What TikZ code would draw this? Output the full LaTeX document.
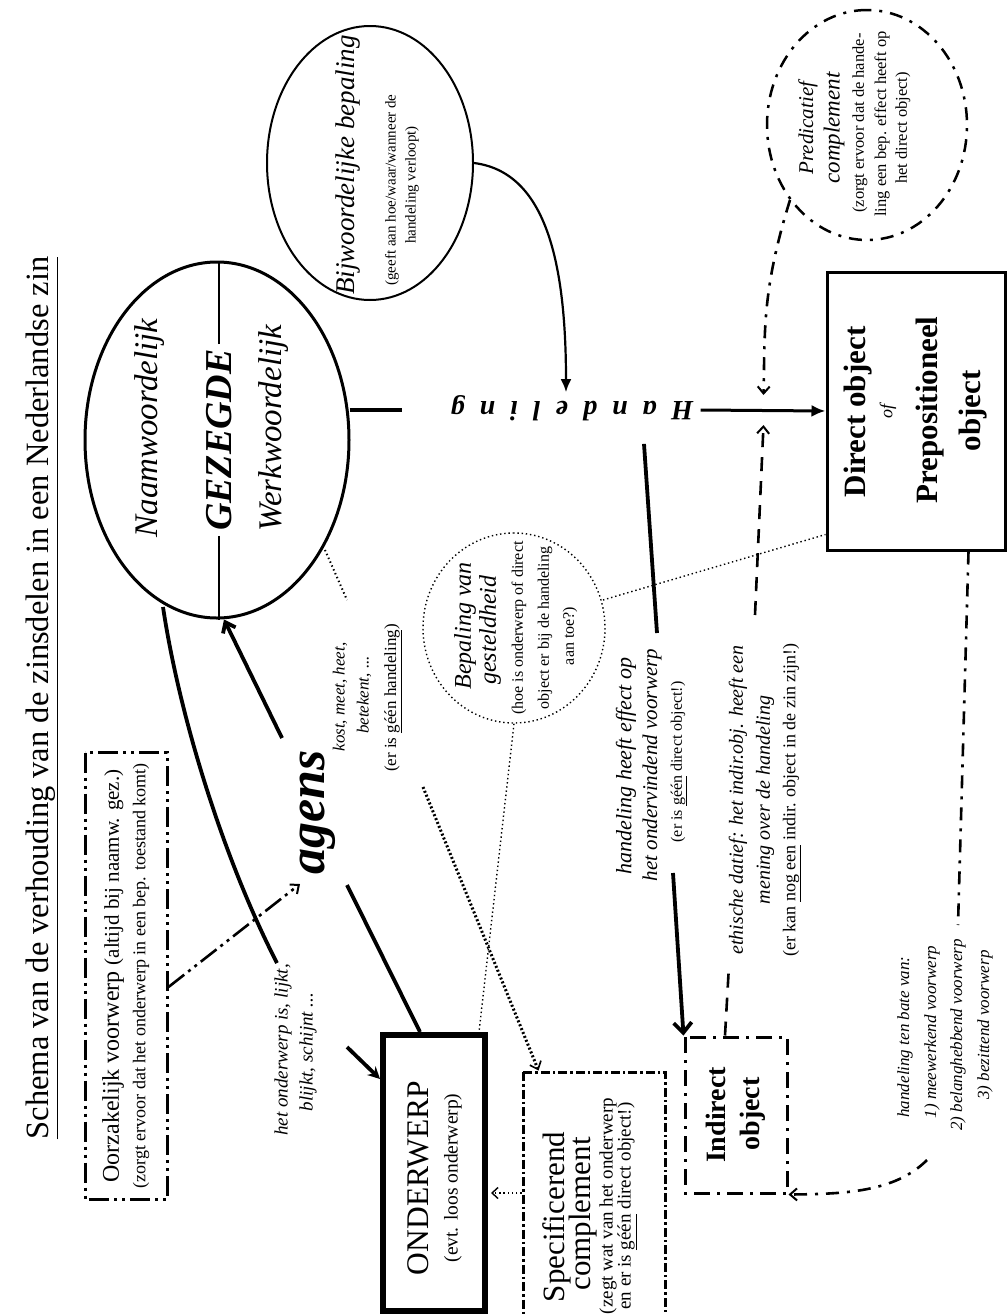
\documentclass[tikz,border=0pt]{standalone}
\usepackage{fontspec}
\setmainfont{Liberation Serif}
\usetikzlibrary{arrows.meta,calc,shapes.geometric}
\newcommand{\fsz}[1]{\fontsize{#1}{#1}\selectfont}
\begin{document}
\begin{tikzpicture}[x=1pt,y=-1pt,
  lbl/.style={inner sep=0pt,rotate=90},
  thk/.style={line width=3.8pt},
  ddd/.style={dash pattern=on 20pt off 5pt on 3pt off 5pt on 3pt off 5pt},
  ddot/.style={dash pattern=on 16pt off 7pt on 3pt off 7pt},
  dsc/.style={dash pattern=on 9pt off 3pt on 2.5pt off 3pt},
  dpc/.style={dash pattern=on 13pt off 8pt on 3pt off 8pt},
  dsh/.style={dash pattern=on 14pt off 10pt},
  dotthin/.style={line width=1.4pt,dash pattern=on 1.4pt off 2.8pt},
  dotthick/.style={line width=3pt,dash pattern=on 2pt off 2.2pt},
  barb/.style={-{Straight Barb[length=7pt,width=12pt,line width=2pt]}},
]
\fill[white] (0,0) rectangle (1007,1315);
\useasboundingbox (0,0) rectangle (1007,1315);
\clip (0,0) rectangle (1007,1315);

% ---------- title
\node[lbl,font=\fsz{32.5}] (title) at (42,698) {\underline{Schema van de verhouding van de zinsdelen in een Nederlandse zin}};

% ---------- Oorzakelijk voorwerp
\node[draw,rotate=90,ddd,line width=3pt,minimum width=447pt,minimum height=82pt,inner sep=0pt] (oorz) at (126,976) {};
\node[lbl] (oorz1) at (113,976) {\fsz{24}Oorzakelijk voorwerp \fsz{21}(altijd bij naamw. gez.)};
\node[lbl,font=\fsz{18}] (oorz2) at (141,976) {(zorgt ervoor dat het onderwerp in een bep. toestand komt)};

% ---------- Gezegde
\node[draw,ellipse,rotate=90,line width=3pt,minimum width=356pt,minimum height=264pt,inner sep=0pt] (gez) at (217,440) {};
\node[lbl,font=\fsz{33}\itshape] (naam) at (150,428) {Naamwoordelijk};
\node[lbl,inner sep=5pt,font=\fsz{38}\bfseries\itshape] (gtxt) at (219,440) {GEZEGDE};
\node[lbl,font=\fsz{33}\itshape] (werk) at (274,428) {Werkwoordelijk};

% ---------- Handeling
\node[inner sep=3pt,rotate=180,font=\fsz{28}\bfseries\itshape] (hand) at (572,408)
  {H\hspace{15pt}a\hspace{15pt}n\hspace{15pt}d\hspace{15pt}e\hspace{15pt}l\hspace{15pt}i\hspace{15pt}n\hspace{15pt}g};

% ---------- Direct object
\node[draw,rotate=90,line width=3pt,minimum width=278pt,minimum height=178pt,inner sep=0pt] (do) at (916,411) {};
\node[lbl,font=\fsz{31}\bfseries] (do1) at (858,412) {Direct object};
\node[lbl,font=\fsz{18}\itshape] (do2) at (888,411) {of};
\node[lbl,font=\fsz{31}\bfseries] (do3) at (930,410) {Prepositioneel};
\node[lbl,font=\fsz{31}\bfseries] (do4) at (973,411) {object};

% ---------- Bijwoordelijke bepaling
\node[draw,ellipse,rotate=90,line width=2pt,minimum width=274pt,minimum height=206pt,inner sep=0pt] (bw) at (370,163) {};
\node[lbl,font=\fsz{27}\itshape] (bw1) at (348,165) {Bijwoordelijke bepaling};
\node[lbl,font=\fsz{15}] (bw2) at (392,190) {(geeft aan hoe/waar/wanneer de};
\node[lbl,font=\fsz{15}] (bw3) at (412,185) {handeling verloopt)};

% ---------- Predicatief complement
\node[draw,ellipse,rotate=90,dpc,line width=2.5pt,minimum width=230pt,minimum height=200pt,inner sep=0pt] (pc) at (867,125) {};
\node[lbl,font=\fsz{21}\itshape] (pc1) at (808,128) {Predicatief};
\node[lbl,font=\fsz{23}\itshape] (pc2) at (834,128) {complement};
\node[lbl,font=\fsz{16.5}] (pc3) at (860,123) {(zorgt ervoor dat de hande-};
\node[lbl,font=\fsz{16.5}] (pc4) at (882,124) {ling een bep. effect heeft op};
\node[lbl,font=\fsz{16.5}] (pc5) at (903,128) {het direct object)};

% ---------- Bepaling van gesteldheid
\node[draw,ellipse,rotate=90,dotthin,minimum width=190pt,minimum height=182pt,inner sep=0pt] (bg) at (514,628) {};
\node[lbl,font=\fsz{24}\itshape] (bg1) at (465,626) {Bepaling van};
\node[lbl,font=\fsz{24}\itshape] (bg2) at (490,630) {gesteldheid};
\node[lbl,font=\fsz{16}] (bg3) at (519,628) {(hoe is onderwerp of direct};
\node[lbl,font=\fsz{16}] (bg4) at (545,628) {object er bij de handeling};
\node[lbl,font=\fsz{16}] (bg5) at (570,636) {aan toe?)};

% ---------- kost, meet
\node[lbl,font=\fsz{17}\itshape] (k1) at (340,697) {kost, meet, heet,};
\node[lbl,font=\fsz{17}\itshape] (k2) at (364,695) {betekent, ...};
\node[lbl,font=\fsz{17}] (k3) at (393,698) {(er is \underline{géén handeling})};

% ---------- agens
\node[lbl,font=\fsz{52}\bfseries\itshape] (agens) at (318,812) {agens};

% ---------- het onderwerp is
\node[lbl,font=\fsz{19}\itshape] (ho1) at (283,1050) {het onderwerp is, lijkt,};
\node[lbl,font=\fsz{19}\itshape] (ho2) at (308,1052) {blijkt, schijnt ...};

% ---------- Onderwerp
\node[draw,rotate=90,line width=6pt,minimum width=276pt,minimum height=102pt,inner sep=0pt] (ow) at (434,1173) {};
\node[lbl,font=\fsz{31.5}] (ow1) at (418,1178) {ONDERWERP};
\node[lbl,font=\fsz{19.5}] (ow2) at (453,1178) {(evt. loos onderwerp)};

% ---------- Specificerend complement
\node[draw,rotate=90,dsc,line width=3pt,minimum width=300pt,minimum height=142pt,inner sep=0pt] (sc) at (594,1222) {};
\node[lbl,font=\fsz{31}] (sc1) at (557,1217) {Specificerend};
\node[lbl,font=\fsz{31}] (sc2) at (583,1214) {complement};
\node[lbl,font=\fsz{19}] (sc3) at (608,1206) {(zegt wat van het onderwerp};
\node[lbl,font=\fsz{19}] (sc4) at (627,1206) {en er is \underline{géén} direct object!)};

% ---------- handeling heeft effect
\node[lbl,font=\fsz{22}\itshape] (he1) at (626,766) {handeling heeft effect op};
\node[lbl,font=\fsz{21}\itshape] (he2) at (652,765) {het ondervindend voorwerp};
\node[lbl,font=\fsz{16}] (he3) at (679,762) {(er is \underline{géén} direct object!)};

% ---------- ethische datief
\node[lbl,font=\fsz{20}\itshape] (ed1) at (738,800) {ethische datief: het indir.obj. heeft een};
\node[lbl,font=\fsz{20}\itshape] (ed2) at (765,800) {mening over de handeling};
\node[lbl,font=\fsz{18}] (ed3) at (792,800) {(er kan \underline{nog een} indir. object in de zin zijn!)};

% ---------- Indirect object
\node[draw,rotate=90,ddot,line width=3pt,minimum width=156pt,minimum height=102pt,inner sep=0pt] (io) at (736,1115) {};
\node[lbl,font=\fsz{28}\bfseries] (io1) at (716,1115) {Indirect};
\node[lbl,font=\fsz{28}\bfseries] (io2) at (753,1114) {object};

% ---------- handeling ten bate van
\node[lbl,font=\fsz{17}\itshape] (tb1) at (905,1037) {handeling ten bate van:};
\node[lbl,font=\fsz{17}\itshape] (tb2) at (932,1032) {1) meewerkend voorwerp};
\node[lbl,font=\fsz{17}\itshape] (tb3) at (958,1035) {2) belanghebbend voorwerp};
\node[lbl,font=\fsz{17}\itshape] (tb4) at (985,1025) {3) bezittend voorwerp};

% ================= connectors
\draw[line width=1.6pt] (gtxt.east) -- (gtxt.east |- gez.east);
\draw[line width=1.6pt] (gtxt.west) -- (gtxt.west |- gez.west);

\draw[thk] ($(gez.south)+(-1,-30)$) -- ($(hand.east)+(-45,2)$);
\draw[line width=3pt,-{Latex[length=14pt,width=12pt]}] ($(hand.west)+(4,2)$) -- (do.north);

\draw[line width=2.2pt,-{Latex[length=13pt,width=11pt]}] (bw.south) .. controls (545,172) and (566,260) .. ([xshift=-6pt]hand.south);

\draw[dpc,line width=2.6pt,barb] ($(pc.center)+(-77,75)$) .. controls (762,290) and (765,330) .. ($(do.north)+(-62,-16)$);

\coordinate (ioup1) at (729,965);
\coordinate (ioup2) at (755,615);
\draw[dsh,line width=2.6pt] ($(io.east)+(-11,0)$) -- (ioup1);
\draw[dsh,line width=2.6pt,barb] (ioup2) -- ($(do.north)+(-62,14)$);

\coordinate (hi1) at ($(hand.north)+(72,20)$);
\coordinate (hi2) at (657,633);
\coordinate (hi3) at (673,873);
\draw[thk] (hi1) -- (hi2);
\draw[thk,-{Straight Barb[length=10pt,width=18pt]}] (hi3) -- (io.north east);

\coordinate (ag2) at (347,885);
\coordinate (ag3) at (282,738);
\draw[thk] ($(ow.north east)+(40,0)$) -- (ag2);
\draw[thk,-{Straight Barb[length=9pt,width=14pt]}] (ag3) -- ($(gez.west)+(7,0)$);

\coordinate (cv) at (277,963);
\coordinate (cv2) at (347,1047);
\draw[thk] ($(gez.center)+(-54,167)$) .. controls (180,720) and (225,862) .. (cv);
\draw[thk,-{Stealth[length=12pt,width=12pt]}] (cv2) -- ($(ow.north east)+(0,47)$);

\coordinate (agtip) at (300,884);
\draw[ddd,line width=2.6pt,barb] ($(oorz.south)+(0,11)$) -- (agtip);

\coordinate (dk) at (347,600);
\coordinate (dk2) at (423,787);
\draw[dotthin,line width=2pt] ($(gez.center)+(108,110)$) -- (dk);
\draw[dotthick,-{Straight Barb[length=7pt,width=12pt,line width=1.6pt]}] (dk2) -- ($(sc.north east)+(17,0)$);

\draw[dotthin] (bg.west) -- ($(ow.north east)+(99,0)$);
\draw[dotthin] ($(bg.center)+(89,-28)$) -- ($(do.north west)+(0,-17)$);
\draw[dotthin,line width=2pt,-{Straight Barb[length=6pt,width=11pt,line width=1.4pt]}] ($(sc.north)+(0,-29)$) -- ($(ow.south)+(3,20)$);

\coordinate (tbtop) at (958,925);
\coordinate (tbbot) at (927,1160);
\draw[dpc,line width=2.6pt] ($(do.south west)+(-38,0)$) -- (tbtop);
\draw[dpc,line width=2.6pt,barb] (tbbot) .. controls (895,1192) and (845,1194) .. (io.south west);
\end{tikzpicture}
\end{document}
